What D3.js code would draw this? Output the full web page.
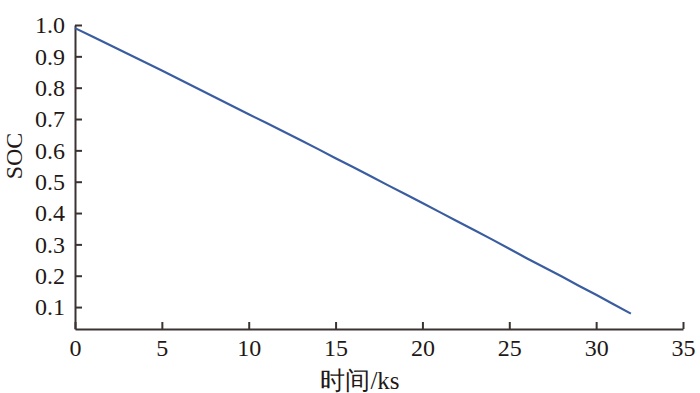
<!DOCTYPE html>
<html>
<head>
<meta charset="utf-8">
<script src="https://cdn.jsdelivr.net/npm/d3@7"></script>
<style>
  body { margin: 0; background: #fff; }
  svg text { font-family: "Liberation Serif", "Times New Roman", serif; fill: #231816; }
</style>
</head>
<body>
<div class="chart"></div>
<script>
// data (time in ks, state of charge)
var times = [0, 1, 2, 3, 4, 5, 6, 7, 8, 9, 10, 11, 12, 13, 14, 15, 16,
             17, 18, 19, 20, 21, 22, 23, 24, 25, 26, 27, 28, 29, 30, 31, 32];
var soc = [0.990, 0.963, 0.936, 0.909, 0.882, 0.855, 0.827, 0.799, 0.771, 0.743, 0.715, 0.688, 0.660,
           0.632, 0.604, 0.575, 0.547, 0.518, 0.489, 0.461, 0.432, 0.403, 0.374, 0.345, 0.316, 0.286,
           0.256, 0.227, 0.198, 0.168, 0.139, 0.109, 0.079];
var xTicks = [0, 5, 10, 15, 20, 25, 30, 35];
var yTicks = [0.1, 0.2, 0.3, 0.4, 0.5, 0.6, 0.7, 0.8, 0.9, 1.0];

var width = 700;
var height = 393;
var axisColor = "#3b3331";

var svg = d3.select(".chart").append("svg")
    .attr("width", width)
    .attr("height", height);

var x = d3.scaleLinear().domain([0, 35]).range([75, 683]);
var y = d3.scaleLinear().domain([0.03, 1.0]).range([329, 25]);

// x axis, ticks pointing inward
var xAxis = svg.append("g")
    .attr("transform", "translate(0," + y.range()[0] + ")")
    .call(d3.axisBottom(x).tickValues(xTicks).tickSizeInner(-7).tickSizeOuter(0).tickPadding(10));
xAxis.selectAll("text").style("font-size", "24px").attr("dy", "0.71em");

// y axis
var yAxis = svg.append("g")
    .attr("transform", "translate(" + x.range()[0] + ",0)")
    .call(d3.axisLeft(y).tickValues(yTicks).tickFormat(d3.format(".1f")).tickSizeInner(-7).tickSizeOuter(0).tickPadding(10));
yAxis.selectAll("text").style("font-size", "24px");

svg.selectAll(".domain, .tick line")
    .attr("stroke", axisColor)
    .attr("stroke-width", 2);
svg.selectAll(".tick text").attr("fill", "#231816");

// the curve
var line = d3.line()
    .x(function(d, i) { return x(times[i]); })
    .y(function(d) { return y(d); });

svg.append("path")
    .datum(soc)
    .attr("fill", "none")
    .attr("stroke", "#3a5da0")
    .attr("stroke-width", 2.2)
    .attr("d", line);

// axis titles
svg.append("text")
    .attr("x", 360)
    .attr("y", 389)
    .attr("text-anchor", "middle")
    .style("font-size", "25px")
    .text("时间/ks");

svg.append("text")
    .attr("transform", "translate(22,156) rotate(-90)")
    .attr("text-anchor", "middle")
    .style("font-size", "24px")
    .text("SOC");
</script>
</body>
</html>
